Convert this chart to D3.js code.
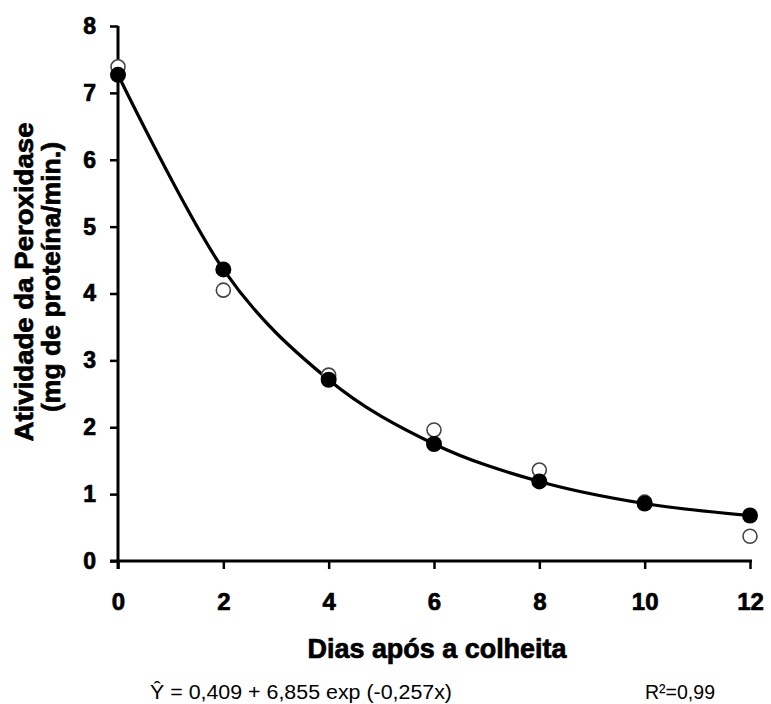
<!DOCTYPE html>
<html>
<head>
<meta charset="utf-8">
<script src="https://cdn.jsdelivr.net/npm/d3@7"></script>
<style>
  html, body { margin: 0; padding: 0; background: #fff; }
  svg { display: block; font-family: "Liberation Sans", Arial, sans-serif; }
  .heavy { stroke: #000; stroke-width: 0.7px; paint-order: stroke; }
</style>
</head>
<body>
<svg id="chart" width="771" height="704"></svg>
<script>
// Peroxidase activity over days after harvest
const days = [0, 2, 4, 6, 8, 10, 12];
const filledSeries = [7.27, 4.36, 2.71, 1.75, 1.19, 0.86, 0.68];
const openSeries   = [7.39, 4.05, 2.78, 1.96, 1.36, 0.88, 0.37];
const xTicks = [0, 2, 4, 6, 8, 10, 12];
const yTicks = [0, 1, 2, 3, 4, 5, 6, 7, 8];

const svg = d3.select("#chart");
const x = d3.scaleLinear().domain([0, 12]).range([118, 750]);
const y = d3.scaleLinear().domain([0, 8]).range([561, 26]);

// Axes
const xAxis = svg.append("g")
  .attr("transform", `translate(0,${y(0)})`)
  .call(d3.axisBottom(x).tickValues(xTicks).tickSize(8).tickPadding(24).tickFormat(d3.format("d")));
xAxis.select(".domain").remove();
xAxis.append("line").attr("x1", 110).attr("x2", 752).attr("y1", 0).attr("y2", 0)
  .attr("stroke", "#000").attr("stroke-width", 3);
xAxis.selectAll(".tick line").attr("stroke", "#000").attr("stroke-width", 2.5);
xAxis.selectAll(".tick text").attr("fill", "#000").classed("heavy", true)
  .style("font-size", "24px").style("font-weight", "bold");

const yAxis = svg.append("g")
  .attr("transform", `translate(${x(0)},0)`)
  .call(d3.axisLeft(y).tickValues(yTicks).tickSize(8).tickPadding(14).tickFormat(d3.format("d")));
yAxis.select(".domain").remove();
yAxis.append("line").attr("x1", 0).attr("x2", 0).attr("y1", y(8)).attr("y2", y(0) + 8)
  .attr("stroke", "#000").attr("stroke-width", 3);
yAxis.selectAll(".tick line").attr("stroke", "#000").attr("stroke-width", 2.5);
yAxis.selectAll(".tick text").attr("fill", "#000").classed("heavy", true)
  .style("font-size", "23px").style("font-weight", "bold");

// Smoothed line through the filled series
const line = d3.line()
  .x((d, i) => x(days[i]))
  .y(d => y(d))
  .curve(d3.curveCardinal.tension(0));
svg.append("path").datum(filledSeries)
  .attr("d", line).attr("fill", "none")
  .attr("stroke", "#000").attr("stroke-width", 3.2);

// Open markers
svg.append("g").selectAll("circle").data(openSeries).join("circle")
  .attr("cx", (d, i) => x(days[i])).attr("cy", d => y(d)).attr("r", 7)
  .attr("fill", "#fff").attr("stroke", "#444").attr("stroke-width", 1.6);

// Filled markers
svg.append("g").selectAll("circle").data(filledSeries).join("circle")
  .attr("cx", (d, i) => x(days[i])).attr("cy", d => y(d)).attr("r", 8)
  .attr("fill", "#000");

// Axis titles
svg.append("text").classed("heavy", true)
  .attr("x", 437).attr("y", 658).attr("text-anchor", "middle")
  .attr("textLength", 259).attr("lengthAdjust", "spacingAndGlyphs")
  .style("font-size", "27px").style("font-weight", "bold")
  .text("Dias após a colheita");

svg.append("text").classed("heavy", true)
  .attr("transform", "translate(33,282) rotate(-90)")
  .attr("text-anchor", "middle")
  .attr("textLength", 319).attr("lengthAdjust", "spacingAndGlyphs")
  .style("font-size", "26px").style("font-weight", "bold")
  .text("Atividade da Peroxidase");

svg.append("text").classed("heavy", true)
  .attr("transform", "translate(60,277) rotate(-90)")
  .attr("text-anchor", "middle")
  .attr("textLength", 270).attr("lengthAdjust", "spacingAndGlyphs")
  .style("font-size", "26px").style("font-weight", "bold")
  .text("(mg de proteína/min.)");

// Regression equation and fit
svg.append("text")
  .attr("x", 150).attr("y", 699)
  .attr("textLength", 302).attr("lengthAdjust", "spacingAndGlyphs")
  .style("font-size", "20px")
  .text("Ŷ = 0,409 + 6,855 exp (-0,257x)");

svg.append("text")
  .attr("x", 645).attr("y", 699)
  .attr("textLength", 70).attr("lengthAdjust", "spacingAndGlyphs")
  .style("font-size", "20px")
  .text("R²=0,99");
</script>
</body>
</html>
